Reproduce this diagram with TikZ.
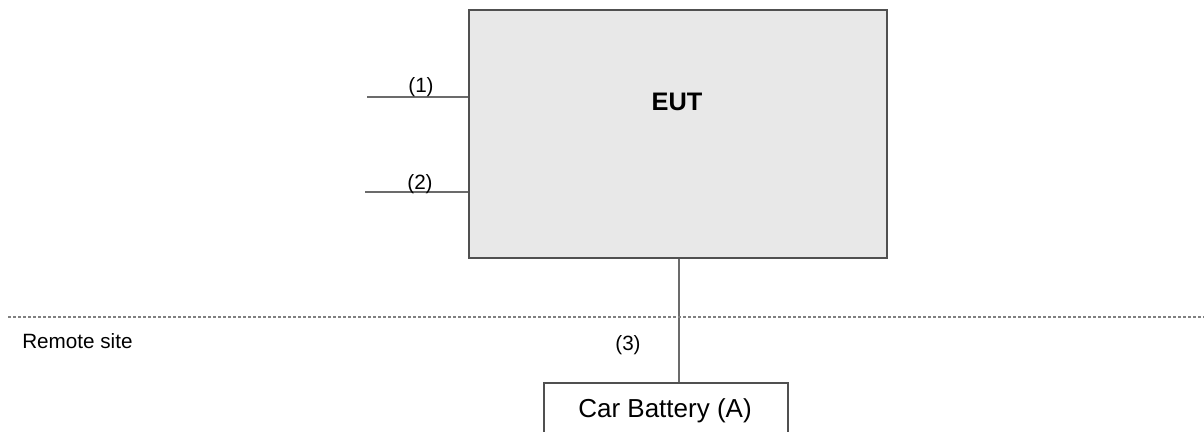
\documentclass[tikz,border=0pt]{standalone}
\usepackage{fontspec}
\setmainfont{Liberation Sans}
\usetikzlibrary{positioning,calc}
\definecolor{boxgray}{HTML}{E8E8E8}
\definecolor{edgegray}{HTML}{505050}
\definecolor{wiregray}{HTML}{6B6B6B}

\begin{document}
\begin{tikzpicture}[x=0.75pt,y=-0.75pt,
    unit/.style={rectangle,draw=edgegray,line width=0.9pt,inner sep=0pt},
    wire/.style={draw=wiregray,line width=0.8pt},
    lbl/.style={font=\fontsize{15.5}{18}\selectfont,inner sep=0pt,anchor=base}]

\clip (0,0) rectangle (1204,432);

\node[unit,fill=boxgray,minimum width=313.5pt,minimum height=186pt] (eut) at (678,134) {};
\node[font=\fontsize{19}{22}\selectfont\bfseries,inner sep=0pt,anchor=base] (euttxt) at (677,110) {EUT};

\node[unit,fill=white,minimum width=183pt,minimum height=45pt,font=\fontsize{19.5}{23}\selectfont] (bat) at (666,413) {};
\node[font=\fontsize{19.5}{23}\selectfont,inner sep=0pt,anchor=base] (battxt) at (665,417) {Car Battery (A)};

% cables into the EUT
\coordinate (in1) at (367,97);
\coordinate (in2) at (365,192);
\draw[wire] (in1) -- (in1 -| eut.west);
\draw[wire] (in2) -- (in2 -| eut.west);
\node[lbl] (l1) at (421,92) {(1)};
\node[lbl] (l2) at (420,189) {(2)};

% supply cable
\draw[wire] (eut.south -| 679,0) -- (bat.north -| 679,0);
\node[lbl] (l3) at (628,350) {(3)};

% site boundary
\coordinate (sl) at (8,317);
\coordinate (sr) at (1204,317);
\draw[draw=gray,line width=0.8pt,dash pattern=on 2.25pt off 1.5pt] (sl) -- (sr);
\node[lbl,anchor=base west] (site) at (22,348) {Remote site};

\end{tikzpicture}
\end{document}
